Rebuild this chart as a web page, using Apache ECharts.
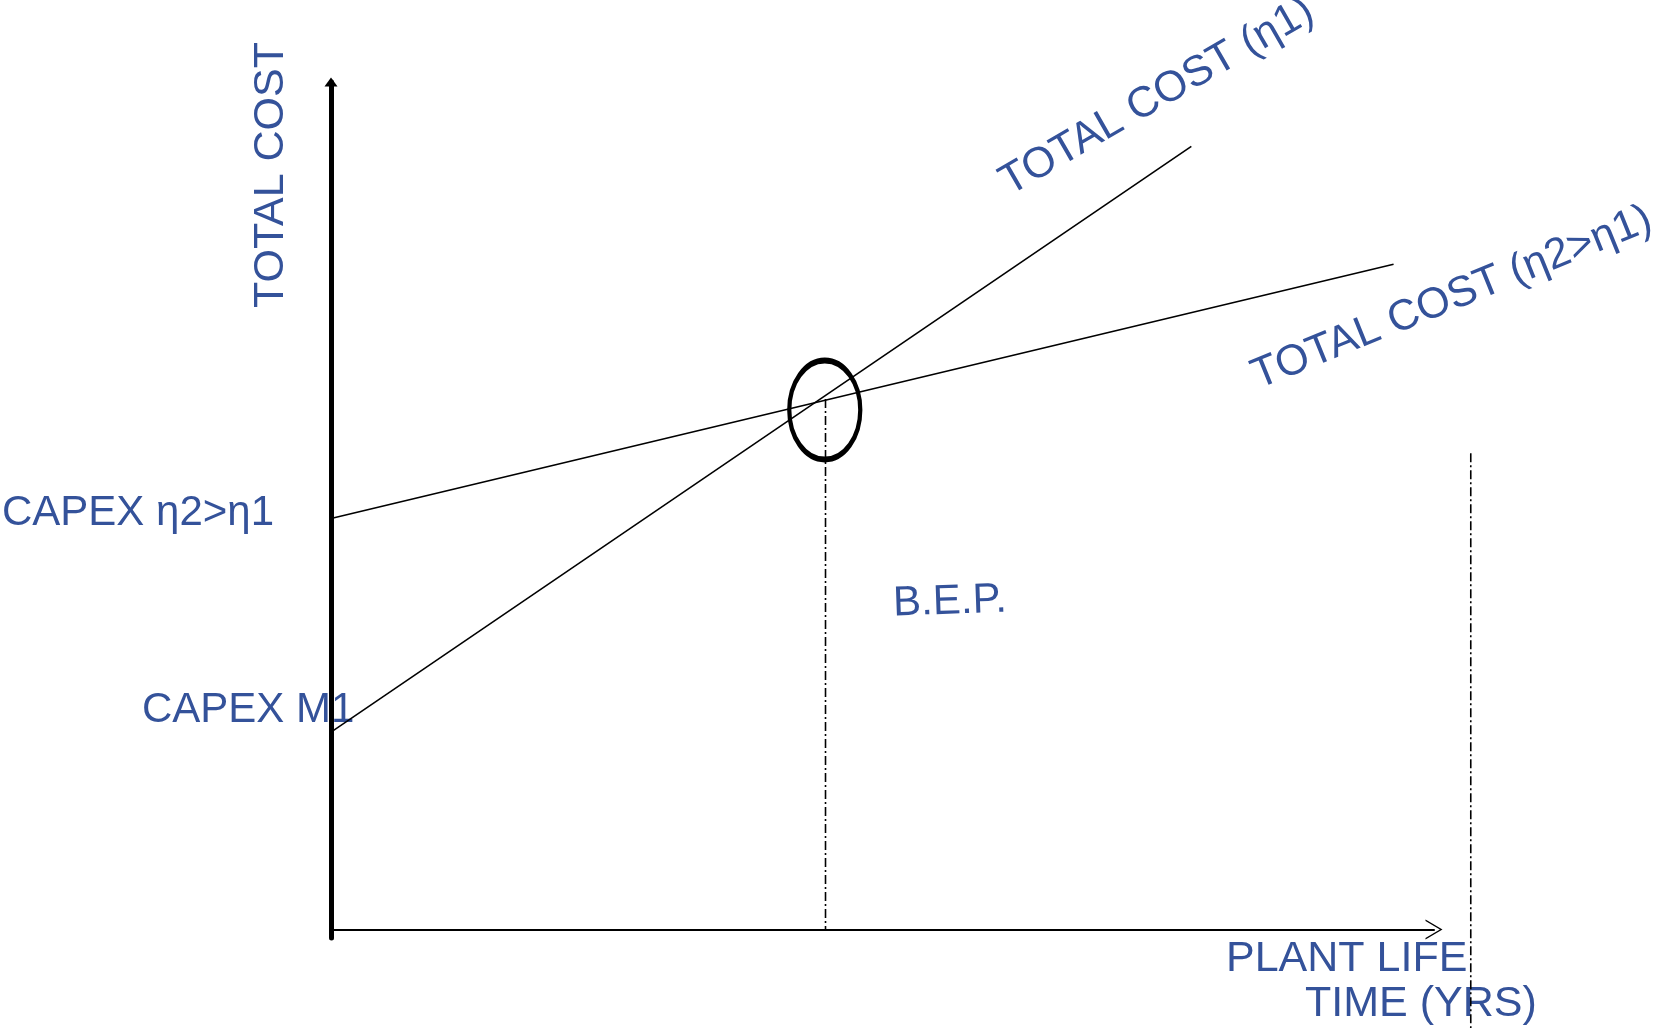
<!DOCTYPE html>
<html style="height: 100%">
<head>
<meta charset="utf-8">
<script src="https://cdn.jsdelivr.net/npm/echarts@6/dist/echarts.min.js"></script>
</head>
<body style="height: 100%; margin: 0; background: #fff">
<div id="container" style="width: 1660px; height: 1028px"></div>
<script type="text/javascript">
// years on x, cost units on y
var years1 = [0, 23.4];
var cost1 = [23.3, 92.4];       // total cost (eta1)
var years2 = [0, 28.9];
var cost2 = [48.5, 78.5];       // total cost (eta2>eta1)
var bepYears = [13.45, 13.45];
var bepCost = [62.6, 0];
var lifeYears = [31.0, 31.0];
var lifeCost = [56.2, -11.7];
var bepCircle = [13.43, 61.3];

var blue = '#34529a';
var font = '43px "Liberation Sans", Arial, sans-serif';
var font42 = '42px "Liberation Sans", Arial, sans-serif';

function pairs(xs, ys) {
    return xs.map(function (x, i) { return [x, ys[i]]; });
}

var dashDot = [9, 3, 2, 3];
var chevron = 'path://M0,17 L10,0 L20,17 L18.4,17 L10,2.6 L1.6,17 Z';
var hidden = {
    axisLine: { show: false }, axisTick: { show: false },
    axisLabel: { show: false }, splitLine: { show: false }
};

// main grid: 1103px for 30 years, 856px for 101 cost units
var pxPerYear = 1103 / 30;
var pxPerCost = 856 / 101;

var dom = document.getElementById('container');
var myChart = echarts.init(dom);
var option = {
    animation: false,
    backgroundColor: '#fff',
    grid: [
        { left: 331, top: 82, width: 1103, height: 856 },
        // wider copy of the same scale, so the life-time line can run past the axis
        { left: 331, top: 82, right: 0, bottom: 0 }
    ],
    xAxis: [
        {
            type: 'value', min: 0, max: 30, gridIndex: 0,
            axisLine: {
                show: true, onZero: true,
                lineStyle: { color: '#000', width: 2 },
                symbol: ['none', chevron], symbolSize: [20, 17]
            },
            axisTick: { show: false }, axisLabel: { show: false }, splitLine: { show: false }
        },
        Object.assign({ type: 'value', gridIndex: 1, min: 0, max: (1660 - 331) / pxPerYear }, hidden)
    ],
    yAxis: [
        {
            type: 'value', min: -1, max: 100, gridIndex: 0,
            axisLine: {
                show: true,
                lineStyle: { color: '#000', width: 5 },
                symbol: ['none', 'triangle'], symbolSize: [13, 9]
            },
            axisTick: { show: false }, axisLabel: { show: false }, splitLine: { show: false }
        },
        Object.assign({ type: 'value', gridIndex: 1, max: 100, min: 100 - (1028 - 82) / pxPerCost }, hidden)
    ],
    series: [
        {
            name: 'TOTAL COST (η1)', type: 'line', data: pairs(years1, cost1),
            symbol: 'none', lineStyle: { color: '#000', width: 1.6 }
        },
        {
            name: 'TOTAL COST (η2>η1)', type: 'line', data: pairs(years2, cost2),
            symbol: 'none', lineStyle: { color: '#000', width: 1.6 }
        },
        {
            name: 'BEP', type: 'line', data: pairs(bepYears, bepCost),
            symbol: 'none', lineStyle: { color: '#000', width: 1.6, type: dashDot }
        },
        {
            name: 'life', type: 'line', data: pairs(lifeYears, lifeCost),
            xAxisIndex: 1, yAxisIndex: 1,
            symbol: 'none', lineStyle: { color: '#000', width: 1.6, type: dashDot }
        },
        {
            name: 'circle', type: 'scatter', data: [bepCircle],
            symbol: 'circle', symbolSize: [71, 99],
            itemStyle: { color: 'rgba(0,0,0,0)', borderColor: '#000', borderWidth: 5, opacity: 1 }
        }
    ],
    graphic: [
        { type: 'text', x: 271, y: 175, rotation: Math.PI / 2,
          style: { text: 'TOTAL COST', font: font, fill: blue, align: 'center', verticalAlign: 'middle' } },
        { type: 'text', x: 2, y: 513,
          style: { text: 'CAPEX η2>η1', font: font42, fill: blue, align: 'left', verticalAlign: 'middle' } },
        { type: 'text', x: 142, y: 710,
          style: { text: 'CAPEX M1', font: font42, fill: blue, align: 'left', verticalAlign: 'middle' } },
        { type: 'text', x: 950, y: 602, rotation: 0.035,
          style: { text: 'B.E.P.', font: font42, fill: blue, align: 'center', verticalAlign: 'middle' } },
        { type: 'text', x: 1226, y: 959,
          style: { text: 'PLANT LIFE', font: font, fill: blue, align: 'left', verticalAlign: 'middle' } },
        { type: 'text', x: 1305, y: 1004,
          style: { text: 'TIME (YRS)', font: font, fill: blue, align: 'left', verticalAlign: 'middle' } },
        { type: 'text', x: 1157, y: 97, rotation: 30 * Math.PI / 180,
          style: { text: 'TOTAL COST (η1)', font: font, fill: blue, align: 'center', verticalAlign: 'middle' } },
        { type: 'text', x: 1452, y: 298, rotation: 22 * Math.PI / 180,
          style: { text: 'TOTAL COST (η2>η1)', font: font, fill: blue, align: 'center', verticalAlign: 'middle' } }
    ]
};
myChart.setOption(option);
</script>
</body>
</html>
